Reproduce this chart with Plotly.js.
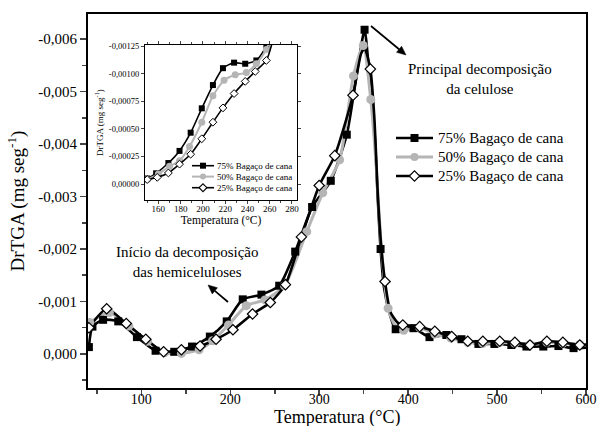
<!DOCTYPE html>
<html><head><meta charset="utf-8">
<script src="https://cdn.plot.ly/plotly-3.0.1.min.js"></script>
<style>html,body{margin:0;padding:0;background:#fff}#chart{width:598px;height:426px}</style>
</head><body><div id="chart"></div>
<script>
// ---------- Main chart data (temperature °C, DrTGA mg/s) ----------
const seriesNames = ['75% Bagaço de cana', '50% Bagaço de cana', '25% Bagaço de cana'];

// marker points
const T75 = [41, 45, 57, 74, 95, 116, 137, 157, 177, 196, 214, 235, 255, 273, 292, 313, 331, 351, 369, 386, 406, 424, 443, 460, 479, 497, 516, 533, 552, 569, 586];
const V75 = [-0.00013, -0.00052, -0.00065, -0.00062, -0.00032, -0.00006, -0.00004, -0.00014, -0.00033, -0.00062, -0.00104, -0.00113, -0.00130, -0.00195, -0.00280, -0.00330, -0.00418, -0.00618, -0.00200, -0.00047, -0.00049, -0.00032, -0.00036, -0.00028, -0.00019, -0.00019, -0.00017, -0.00014, -0.00014, -0.00015, -0.00011];
// extra curve points between markers
const T75c = [343.8, 356, 362, 366, 373, 379, 600];
const V75c = [-0.00551, -0.00540, -0.00430, -0.00290, -0.00125, -0.00078, -0.00012];

const T50 = [42, 64, 86, 107, 126, 145, 165, 180, 198, 218, 239, 261, 286, 304, 323, 338.5, 349.5, 358, 377.5, 395, 413, 430, 448, 467, 484, 503, 520, 537, 556, 574, 593];
const V50 = [-0.00060, -0.00079, -0.00053, -0.00024, -0.00002, -0.00001, -0.00008, -0.00025, -0.00055, -0.00092, -0.00103, -0.00130, -0.00233, -0.00307, -0.00370, -0.00530, -0.00588, -0.00485, -0.00087, -0.00045, -0.00050, -0.00038, -0.00030, -0.00022, -0.00020, -0.00022, -0.00020, -0.00018, -0.00022, -0.00020, -0.00018];
const T50c = [364, 370, 385, 600];
const V50c = [-0.00360, -0.00200, -0.00055, -0.00018];

const T25 = [41, 61, 83, 105, 125, 145, 166, 184, 203, 225, 245, 262, 280, 300, 317.5, 338, 357.5, 374, 394, 413, 430, 449, 467, 484, 503, 520, 537, 556, 574, 593];
const V25 = [-0.00050, -0.00086, -0.00058, -0.00028, -0.00004, -0.00008, -0.00015, -0.00028, -0.00046, -0.00076, -0.00098, -0.00132, -0.00223, -0.00321, -0.00378, -0.00493, -0.00543, -0.00138, -0.00055, -0.00052, -0.00043, -0.00033, -0.00024, -0.00024, -0.00024, -0.00022, -0.00017, -0.00024, -0.00022, -0.00017];
const T25c = [347, 351, 362, 366, 370, 380, 388, 600];
const V25c = [-0.00572, -0.00583, -0.00450, -0.00300, -0.00200, -0.00080, -0.00060, -0.00018];

// ---------- Inset data ----------
const iT75 = [150, 158, 169, 179, 189, 199, 209, 218, 228, 238, 248, 257, 263];
const iV75 = [-0.00005, -0.000097, -0.00019, -0.00030, -0.000465, -0.000686, -0.000897, -0.00105, -0.00110, -0.00109, -0.00112, -0.00125, -0.00145];
const iT50 = [150, 160, 170, 179, 188, 199, 209, 219, 229, 239, 248, 257, 264];
const iV50 = [-0.00004, -0.00009, -0.00016, -0.00021, -0.00034, -0.00056, -0.00080, -0.00094, -0.00099, -0.00101, -0.00109, -0.00122, -0.00145];
const iT25 = [150, 159, 169, 179, 189, 199, 209, 218, 228, 238, 247, 257, 264];
const iV25 = [-0.00004, -0.00006, -0.00010, -0.00018, -0.00027, -0.00041, -0.00056, -0.00069, -0.00082, -0.00093, -0.00102, -0.00112, -0.00135];

// ---------- Tick labels ----------
const yTickVals = [0, -0.001, -0.002, -0.003, -0.004, -0.005, -0.006];
const yTickText = ['0,000', '-0,001', '-0,002', '-0,003', '-0,004', '-0,005', '-0,006'];
const iyTickVals = [0, -0.00025, -0.0005, -0.00075, -0.001, -0.00125];
const iyTickText = ['0,00000', '-0,00025', '-0,00050', '-0,00075', '-0,00100', '-0,00125'];

// ---------- helpers ----------
function merge(t1, v1, t2, v2) {
  const pts = t1.map((t, i) => [t, v1[i]]).concat(t2.map((t, i) => [t, v2[i]]));
  pts.sort((a, b) => a[0] - b[0]);
  return [pts.map(p => p[0]), pts.map(p => p[1])];
}
const W = 598, H = 426, ML = 88, MR = 12, MT = 14, MB = 38;
const PW = W - ML - MR, PH = H - MT - MB;
const px = x => (x - ML) / PW;
const py = y => (H - MB - y) / PH;

const GRAY = '#b5b5b5';
const styles = [
  {color: '#000', lw: 2.6, sym: 'square', fill: '#000', size: 8, ilw: 1.6, isize: 6},
  {color: GRAY, lw: 3, sym: 'circle', fill: GRAY, size: 9, ilw: 2, isize: 7},
  {color: '#000', lw: 2.6, sym: 'diamond', fill: '#fff', size: 8, ilw: 1.6, isize: 6}
];
const mainData = [[T75, V75, T75c, V75c], [T50, V50, T50c, V50c], [T25, V25, T25c, V25c]];
const insetData = [[iT75, iV75], [iT50, iV50], [iT25, iV25]];

const traces = [];
mainData.forEach((d, i) => {
  const [lt, lv] = merge(d[0], d[1], d[2], d[3]);
  traces.push({x: lt, y: lv, mode: 'lines', line: {color: styles[i].color, width: styles[i].lw, shape: 'spline', smoothing: 0.6}, hoverinfo: 'skip', showlegend: false});
});
mainData.forEach((d, i) => {
  traces.push({x: d[0], y: d[1], mode: 'markers', marker: {symbol: styles[i].sym, size: styles[i].size, color: styles[i].fill, line: {color: styles[i].sym === 'circle' ? GRAY : '#000', width: styles[i].sym === 'diamond' ? 1.2 : 0}}, showlegend: false});
});
insetData.forEach((d, i) => {
  traces.push({x: d[0], y: d[1], xaxis: 'x3', yaxis: 'y3', mode: 'lines+markers', line: {color: styles[i].color, width: styles[i].ilw, shape: 'spline', smoothing: 0.6}, marker: {symbol: styles[i].sym, size: styles[i].isize, color: styles[i].fill, line: {color: styles[i].sym === 'circle' ? GRAY : '#000', width: styles[i].sym === 'diamond' ? 1 : 0}}, showlegend: false});
});

// ---------- manual legends, arrows ----------
const shapes = [], annotations = [];
function legend(rows, x0, x1, xText, msize, main, fsize) {
  rows.forEach((ry, i) => {
    const s = styles[i];
    shapes.push({type: 'line', xref: 'paper', yref: 'paper', x0: px(x0), x1: px(x1), y0: py(ry), y1: py(ry), line: {color: s.color, width: main ? s.lw : s.ilw}});
    const cx = (x0 + x1) / 2, h = msize / 2;
    if (s.sym === 'square') {
      shapes.push({type: 'rect', xref: 'paper', yref: 'paper', x0: px(cx - h), x1: px(cx + h), y0: py(ry - h), y1: py(ry + h), fillcolor: '#000', line: {width: 0}});
    } else if (s.sym === 'circle') {
      shapes.push({type: 'circle', xref: 'paper', yref: 'paper', x0: px(cx - h), x1: px(cx + h), y0: py(ry - h), y1: py(ry + h), fillcolor: GRAY, line: {width: 0}});
    } else {
      const d = h * 1.3;
      shapes.push({type: 'path', xref: 'paper', yref: 'paper', path: `M${px(cx - d)},${py(ry)} L${px(cx)},${py(ry - d)} L${px(cx + d)},${py(ry)} L${px(cx)},${py(ry + d)} Z`, fillcolor: '#fff', line: {color: '#000', width: 1.1}});
    }
    annotations.push({xref: 'paper', yref: 'paper', x: px(xText), y: py(ry), xanchor: 'left', yanchor: 'middle', text: seriesNames[i], showarrow: false, font: {size: fsize}});
  });
}
legend([138, 157, 176], 396, 433, 436, 8, true, 15);
legend([165.7, 176.6, 187.7], 192, 214, 215, 6, false, 9);

function arrow(x0, y0, x1, y1) {
  const dx = x1 - x0, dy = y1 - y0, L = Math.hypot(dx, dy), ux = dx / L, uy = dy / L;
  const hl = 9, hw = 4;
  const bx = x1 - ux * hl, by = y1 - uy * hl;
  shapes.push({type: 'line', xref: 'paper', yref: 'paper', x0: px(x0), y0: py(y0), x1: px(bx), y1: py(by), line: {color: '#000', width: 1.7}});
  shapes.push({type: 'path', xref: 'paper', yref: 'paper',
    path: `M${px(x1)},${py(y1)} L${px(bx - uy * hw)},${py(by + ux * hw)} L${px(bx + uy * hw)},${py(by - ux * hw)} Z`,
    fillcolor: '#000', line: {color: '#000', width: 0.5}});
}
arrow(371, 26, 406, 55);
arrow(228, 302, 208, 285);

annotations.push({xref: 'paper', yref: 'paper', x: px(480), y: py(79), xanchor: 'center', yanchor: 'middle', text: 'Principal decomposição<br>da celulose', showarrow: false, font: {size: 15}, align: 'center'});
annotations.push({xref: 'paper', yref: 'paper', x: px(187), y: py(262), xanchor: 'center', yanchor: 'middle', text: 'Início da decomposição<br>das hemiceluloses', showarrow: false, font: {size: 15}, align: 'center'});
// main x-axis title
annotations.push({xref: 'paper', yref: 'paper', x: px(337), y: py(417), xanchor: 'center', yanchor: 'middle', text: 'Temperatura (°C)', showarrow: false, font: {size: 18}});

const layout = {
  width: W, height: H,
  margin: {l: ML, r: MR, t: MT, b: MB},
  paper_bgcolor: '#fff', plot_bgcolor: '#fff',
  font: {family: 'Liberation Serif, Times New Roman, serif', color: '#000'},
  showlegend: false,
  xaxis: {range: [40, 600], tickmode: 'linear', tick0: 0, dtick: 100, ticks: 'outside', ticklen: 6, tickwidth: 1.5, ticklabelstandoff: -9,
    minor: {tickmode: 'linear', tick0: 0, dtick: 50, ticks: 'outside', ticklen: 4, tickwidth: 1.5},
    showline: true, linewidth: 2, linecolor: '#000', mirror: true, showgrid: false, zeroline: false,
    tickfont: {size: 14}, automargin: false},
  yaxis: {range: [0.00065, -0.00648], tickmode: 'array', tickvals: yTickVals, ticktext: yTickText, ticks: 'outside', ticklen: 6, tickwidth: 1.5,
    minor: {tickmode: 'linear', tick0: 0, dtick: 0.0005, ticks: 'outside', ticklen: 4, tickwidth: 1.5},
    showline: true, linewidth: 2, linecolor: '#000', mirror: true, showgrid: false, zeroline: false,
    tickfont: {size: 15}, title: {text: 'DrTGA (mg seg<sup>-1</sup>)', font: {size: 19}, standoff: 9}, automargin: false},
  xaxis2: {overlaying: 'x', side: 'top', anchor: 'y', range: [0, 10], tickmode: 'linear', tick0: 0, dtick: 1, ticks: 'inside', ticklen: 5, tickwidth: 1.5, showticklabels: false, showgrid: false, zeroline: false, showline: false},
  yaxis2: {overlaying: 'y', side: 'right', anchor: 'x', range: [-10.24, 0], tickmode: 'linear', tick0: 0, dtick: 1, ticks: 'inside', ticklen: 5, tickwidth: 1.5, showticklabels: false, showgrid: false, zeroline: false, showline: false},
  xaxis3: {domain: [px(145), px(297)], anchor: 'y3', range: [148, 284.5], tickmode: 'linear', tick0: 0, dtick: 20, ticks: 'outside', ticklen: 3, ticklabelstandoff: -3,
    minor: {tickmode: 'linear', tick0: 0, dtick: 10, ticks: 'outside', ticklen: 2},
    showline: true, linewidth: 1, linecolor: '#000', mirror: 'ticks', showgrid: false, zeroline: false,
    tickfont: {size: 9}, title: {text: 'Temperatura (°C)', font: {size: 11.5}, standoff: 3}, automargin: false},
  yaxis3: {domain: [py(200), py(45)], anchor: 'x3', range: [0.000145, -0.00126], tickmode: 'array', tickvals: iyTickVals, ticktext: iyTickText, ticks: 'outside', ticklen: 3,
    showline: true, linewidth: 1, linecolor: '#000', mirror: 'ticks', showgrid: false, zeroline: false,
    tickfont: {size: 8.5}, title: {text: 'DrTGA (mg seg<sup>-1</sup>)', font: {size: 9}, standoff: 3}, automargin: false},
  shapes: shapes,
  annotations: annotations
};

Plotly.newPlot('chart', traces, layout, {staticPlot: true, displayModeBar: false});
</script>
</body></html>
